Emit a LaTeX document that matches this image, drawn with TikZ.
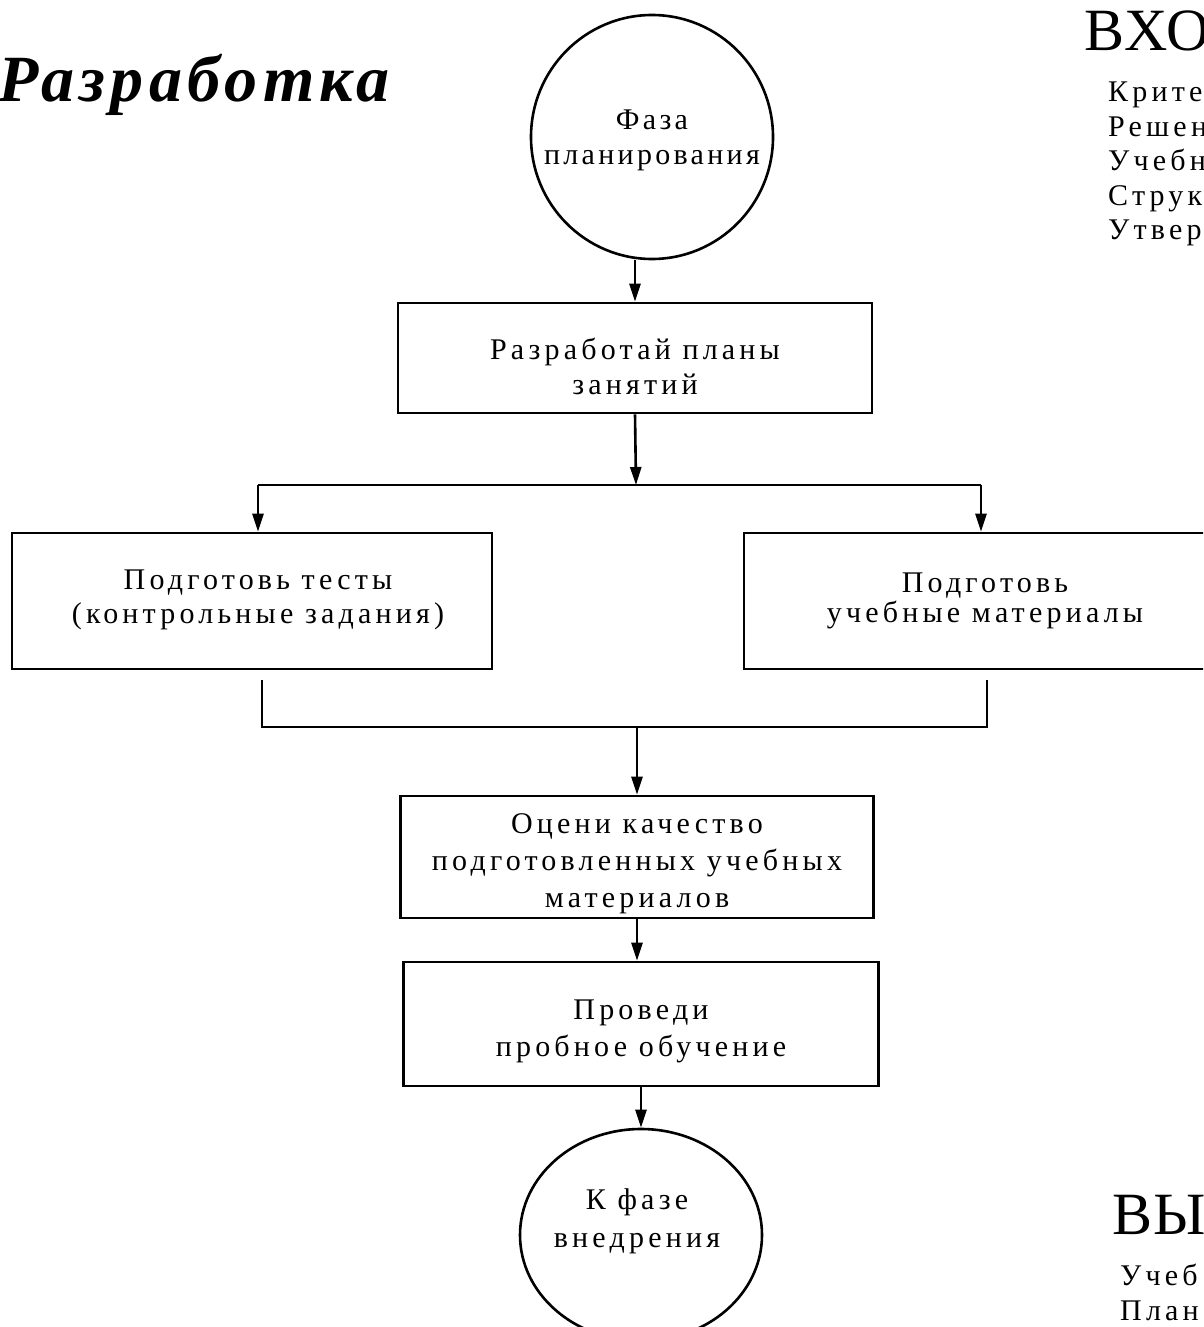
\documentclass[tikz,border=0pt]{standalone}
\usepackage{fontspec}
\setmainfont{Liberation Serif}
\newfontfamily\bodyfont[LetterSpace=14]{Liberation Serif}
\newfontfamily\phasefont[LetterSpace=11]{Liberation Serif}
\newfontfamily\titlefont[LetterSpace=8]{Liberation Serif}
\newfontfamily\headfont[LetterSpace=3]{Liberation Serif}
\usetikzlibrary{arrows.meta,shapes.geometric}

\tikzset{
  stepbox/.style={draw, line width=2.6pt, rectangle, inner sep=0pt},
  phase/.style={draw, line width=2.6pt, ellipse, inner sep=0pt},
  lbl/.style={inner sep=0pt, align=center, font=\fontsize{30}{35}\bodyfont},
  sidelist/.style={inner sep=0pt, align=left, font=\fontsize{30}{34.5}\bodyfont},
  sidehead/.style={inner sep=0pt, font=\fontsize{60}{60}\headfont},
  link/.style={line width=2.6pt},
  arr/.style={line width=2.6pt, -{Triangle[length=18pt,width=11pt]}},
}

\begin{document}
\begin{tikzpicture}[x=1pt,y=-1pt]
\useasboundingbox (0,0) rectangle (1203,1327);
\clip (0,0) rectangle (1203,1327);
\fill[white] (0,0) rectangle (1203,1327);

% heading
\node[inner sep=0pt, anchor=base east,
      font=\fontsize{66}{66}\titlefont\bfseries\itshape] (title) at (390,102) {Разработка};

% inputs (right margin)
\node[sidehead, anchor=base west] (inhead) at (1084,51) {ВХО};
\node[sidelist, anchor=north west] (inlist) at (1108,82)
  {Крите\\Решен\\Учебн\\Струк\\Утвер};

% outputs (right margin)
\node[sidehead, anchor=base west] (outhead) at (1112,1234) {ВЫ};
\node[sidelist, anchor=north west] (outlist) at (1120,1264)
  {Учеб\\План};

% flow
\node[phase, minimum width=242pt, minimum height=244pt] (start) at (652,137) {};
\node[lbl, font=\fontsize{30}{35}\phasefont] (startlbl) at (652,140)
  {Фаза\\планирования};

\node[stepbox, minimum width=474pt, minimum height=110pt] (plan) at (635,358) {};
\node[lbl] (planlbl) at (635,366) {Разработай планы\\занятий};

\coordinate (split) at (636,485);
\coordinate (splitL) at (258,485);
\coordinate (splitR) at (981,485);

\node[stepbox, minimum width=480pt, minimum height=136pt] (tests) at (252,601) {};
\node[lbl, font=\fontsize{30}{34}\bodyfont] (testslbl) at (258,600)
  {Подготовь тесты\\(контрольные задания)};
\node[stepbox, minimum width=482pt, minimum height=136pt] (mats) at (985,601) {};
\node[lbl, font=\fontsize{30}{30}\bodyfont] (matslbl) at (985,601)
  {Подготовь\\учебные материалы};

\coordinate (mL) at (262,680);
\coordinate (mLb) at (262,727);
\coordinate (mR) at (987,680);
\coordinate (mRb) at (987,727);
\coordinate (merge) at (637,727);

\node[stepbox, minimum width=473pt, minimum height=122pt] (check) at (637,857) {};
\node[lbl, font=\fontsize{30}{37}\bodyfont] (checklbl) at (637,864)
  {Оцени качество\\подготовленных учебных\\материалов};

\node[stepbox, minimum width=475pt, minimum height=124pt] (trial) at (641,1024) {};
\node[lbl, font=\fontsize{30}{37}\bodyfont] (triallbl) at (641,1031)
  {Проведи\\пробное обучение};

\node[phase, minimum width=242pt, minimum height=212pt] (finish) at (641,1235) {};
\node[lbl, font=\fontsize{30}{38}\bodyfont] (finishlbl) at (637,1221) {К фазе\\внедрения};

% connectors
\draw[arr] (start.south -| plan.north) -- (plan.north);
\draw[arr] (plan.south) -- (split);
\draw[link] (splitL) -- (splitR);
\draw[arr] (splitL) -- (splitL |- tests.north);
\draw[arr] (splitR) -- (splitR |- mats.north);
\draw[link] (mL) -- (mLb) -- (mRb) -- (mR);
\draw[arr] (merge) -- (merge |- check.north);
\draw[arr] (check.south) -- (check.south |- trial.north);
\draw[arr] (trial.south) -- (trial.south |- finish.north);
\end{tikzpicture}
\end{document}
